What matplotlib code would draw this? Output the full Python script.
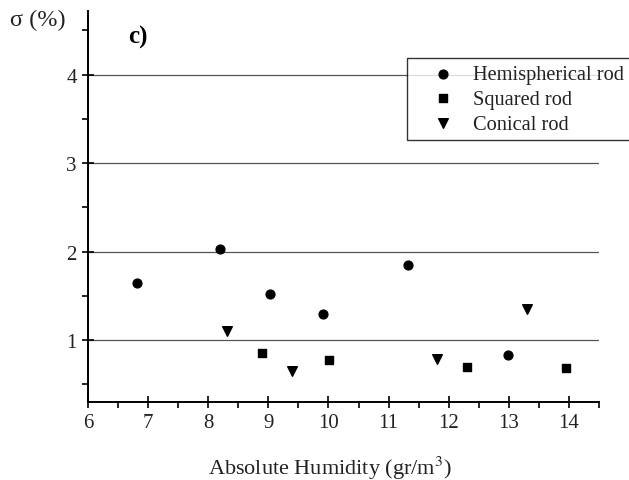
import matplotlib
matplotlib.use("Agg")
import matplotlib.pyplot as plt
from matplotlib.ticker import MultipleLocator

hemi_x = [6.82, 8.19, 9.03, 9.91, 11.33, 12.98]
hemi_y = [1.65, 2.03, 1.525, 1.30, 1.845, 0.835]
sq_x = [8.90, 10.01, 12.31, 13.95]
sq_y = [0.85, 0.78, 0.695, 0.69]
con_x = [8.32, 9.39, 11.81, 13.30]
con_y = [1.10, 0.654, 0.79, 1.355]
grid_levels = [1, 2, 3, 4]

plt.rcParams['font.family'] = ['Liberation Serif', 'DejaVu Serif']
plt.rcParams['mathtext.fontset'] = 'stix'

fig = plt.figure(figsize=(6.29, 4.81), dpi=100)
ax = fig.add_axes([88/629, 1-403/481, (599-88)/629, (403-12)/481])

for g in grid_levels:
    ax.axhline(g, color='#555555', lw=0.9, zorder=1)

ax.scatter(hemi_x, hemi_y, marker='o', s=40, color='black', zorder=3, label='Hemispherical rod')
ax.scatter(sq_x, sq_y, marker='s', s=34, color='black', zorder=3, label='Squared rod')
ax.scatter(con_x, con_y, marker='v', s=48, color='black', zorder=3, label='Conical rod')

ax.set_xlim(6, 14.5)
ax.set_ylim(0.3, 4.72)
ax.xaxis.set_major_locator(MultipleLocator(1))
ax.xaxis.set_minor_locator(MultipleLocator(0.5))
ax.yaxis.set_major_locator(MultipleLocator(1))
ax.yaxis.set_minor_locator(MultipleLocator(0.5))
ax.tick_params(which='major', direction='inout', length=8, width=1.2, labelsize=15,
               color='black', labelcolor='#222222', pad=4)
ax.tick_params(which='minor', direction='out', length=4, width=1.2)
for s in ['top', 'right']:
    ax.spines[s].set_visible(False)
for s in ['left', 'bottom']:
    ax.spines[s].set_linewidth(1.4)

ax.set_xlabel('Absolute Humidity (gr/m$^3$)', fontsize=16, color='#222222')
ax.xaxis.set_label_coords((330-88)/511, -(468-403)/391)
ax.xaxis.label.set_va('center')
fig.text(10/629, 1-20/481, 'σ (%)', fontsize=17.5, va='center', ha='left', color='#222222')
fig.text(128/629, 1-37/481, 'c)', fontsize=18, fontweight='bold', va='center', ha='left')

leg = ax.legend(loc='upper left', bbox_to_anchor=(407/629, 1-59/481), bbox_transform=fig.transFigure,
                frameon=True, fancybox=False, edgecolor='black', fontsize=14.7,
                handletextpad=0.0, borderpad=0.33, labelspacing=0.27, borderaxespad=0,
                handlelength=2.9)
leg.get_frame().set_linewidth(1.0)
for t in leg.get_texts():
    t.set_color('#222222')

fig.savefig('out.png', dpi=100)
